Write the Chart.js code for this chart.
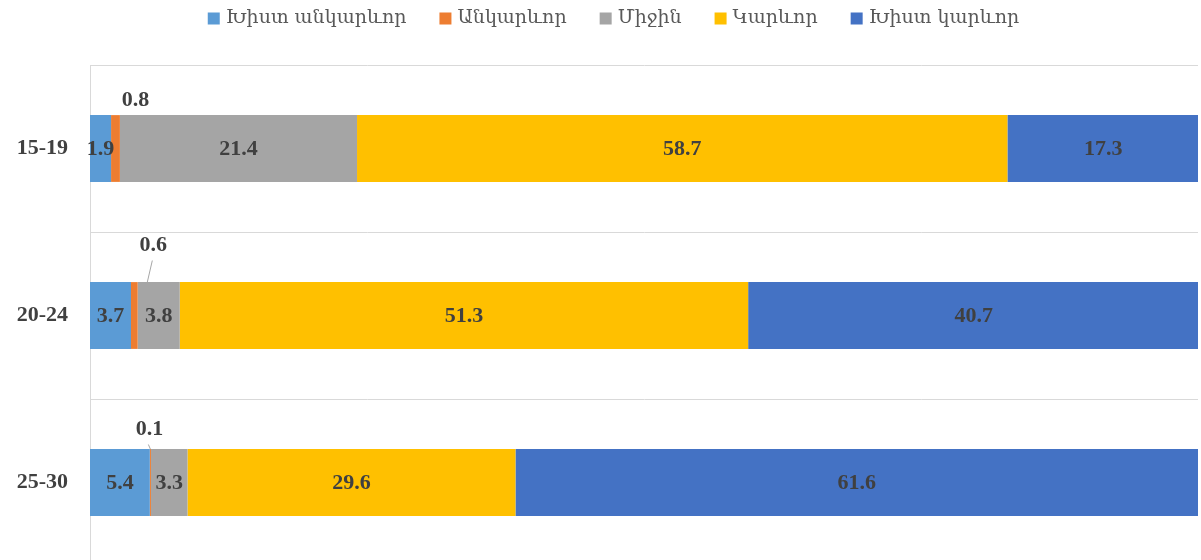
<!DOCTYPE html>
<html>
<head>
<meta charset="utf-8">
<script src="https://cdn.jsdelivr.net/npm/chart.js@4/dist/chart.umd.min.js"></script>
<style>
  html, body { margin: 0; padding: 0; background: #fff; overflow: hidden; }
  canvas { display: block; }
</style>
</head>
<body>
<canvas id="c" width="1201" height="566"></canvas>
<script>
// ---- data ----
const categories = ['15-19', '20-24', '25-30'];
const seriesNames = ['Խիստ անկարևոր', 'Անկարևոր', 'Միջին', 'Կարևոր', 'Խիստ կարևոր'];
const veryUnimportant = [1.9, 3.7, 5.4];
const unimportant = [0.8, 0.6, 0.1];
const medium = [21.4, 3.8, 3.3];
const important = [58.7, 51.3, 29.6];
const veryImportant = [17.3, 40.7, 61.6];

const colors = ['#5B9BD5', '#ED7D31', '#A5A5A5', '#FFC000', '#4472C4'];
const seriesValues = [veryUnimportant, unimportant, medium, important, veryImportant];

const serifBold = '"Liberation Serif", "DejaVu Serif", serif';
const labelFont = 'bold 22px ' + serifBold;
// offsets for the outside labels of the small series (relative to bar centre)
const outsideOffsets = [
  { dx: 20, dy: -48, leader: false },
  { dx: 19, dy: -70, leader: true },
  { dx: -1, dy: -53, leader: true }
];

const dataLabels = {
  id: 'dataLabels',
  afterDatasetsDraw(chart) {
    const ctx = chart.ctx;
    ctx.save();
    ctx.font = labelFont;
    ctx.fillStyle = '#404040';
    ctx.textAlign = 'center';
    ctx.textBaseline = 'middle';
    chart.data.datasets.forEach((ds, i) => {
      const meta = chart.getDatasetMeta(i);
      meta.data.forEach((bar, j) => {
        const p = bar.getProps(['x', 'y', 'base', 'height'], true);
        const cx = (p.x + p.base) / 2;
        const txt = ds.data[j].toFixed(1);
        if (i === 1) {
          const o = outsideOffsets[j];
          const lx = cx + o.dx, ly = p.y + o.dy;
          if (o.leader) {
            ctx.save();
            ctx.strokeStyle = '#A6A6A6';
            ctx.lineWidth = 1;
            ctx.beginPath();
            ctx.moveTo(lx - 1, ly + 15);
            ctx.lineTo(cx + (o.dx > 5 ? 13 : 0), p.y - p.height / 2);
            ctx.stroke();
            ctx.restore();
          }
          ctx.fillText(txt, lx, ly);
        } else {
          ctx.fillText(txt, cx, p.y + 1);
        }
      });
    });
    ctx.restore();
  }
};

// custom top legend (Excel-like spacing)
const topLegend = {
  id: 'topLegend',
  afterDraw(chart) {
    const ctx = chart.ctx;
    ctx.save();
    ctx.font = '19px "DejaVu Serif", serif';
    ctx.textBaseline = 'middle';
    ctx.textAlign = 'left';
    const box = 12, gapText = 6, gapItem = 33, cy = 18.5;
    const items = chart.data.datasets.map(ds => ({
      text: ds.label, color: ds.backgroundColor, w: ctx.measureText(ds.label).width
    }));
    const total = items.reduce((s, it) => s + box + gapText + it.w, 0) + gapItem * (items.length - 1);
    let x = 613.5 - total / 2;
    items.forEach(it => {
      ctx.fillStyle = it.color;
      ctx.fillRect(x, cy - box / 2, box, box);
      ctx.fillStyle = '#595959';
      ctx.fillText(it.text, x + box + gapText, cy);
      x += box + gapText + it.w + gapItem;
    });
    ctx.restore();
  }
};

new Chart(document.getElementById('c'), {
  type: 'bar',
  data: {
    labels: categories,
    datasets: seriesNames.map((name, i) => ({
      label: name,
      data: seriesValues[i],
      backgroundColor: colors[i],
      borderWidth: 0,
      barPercentage: 0.4,
      categoryPercentage: 1.0
    }))
  },
  options: {
    indexAxis: 'y',
    responsive: false,
    animation: false,
    layout: { padding: { left: 0, right: 3, top: 65, bottom: 0 } },
    scales: {
      x: {
        stacked: true,
        min: 0,
        max: 100,
        display: false
      },
      y: {
        stacked: true,
        afterFit(s) { s.width = 90; s.paddingTop = 0; s.paddingBottom = 0; },
        grid: { color: '#D9D9D9', offset: true, drawTicks: false, lineWidth: 1 },
        border: { display: true, color: '#D9D9D9' },
        ticks: {
          padding: 22,
          color: '#404040',
          font: { family: serifBold, size: 22, weight: 'bold' }
        }
      }
    },
    plugins: {
      tooltip: { enabled: false },
      legend: { display: false }
    }
  },
  plugins: [dataLabels, topLegend]
});
</script>
</body>
</html>
